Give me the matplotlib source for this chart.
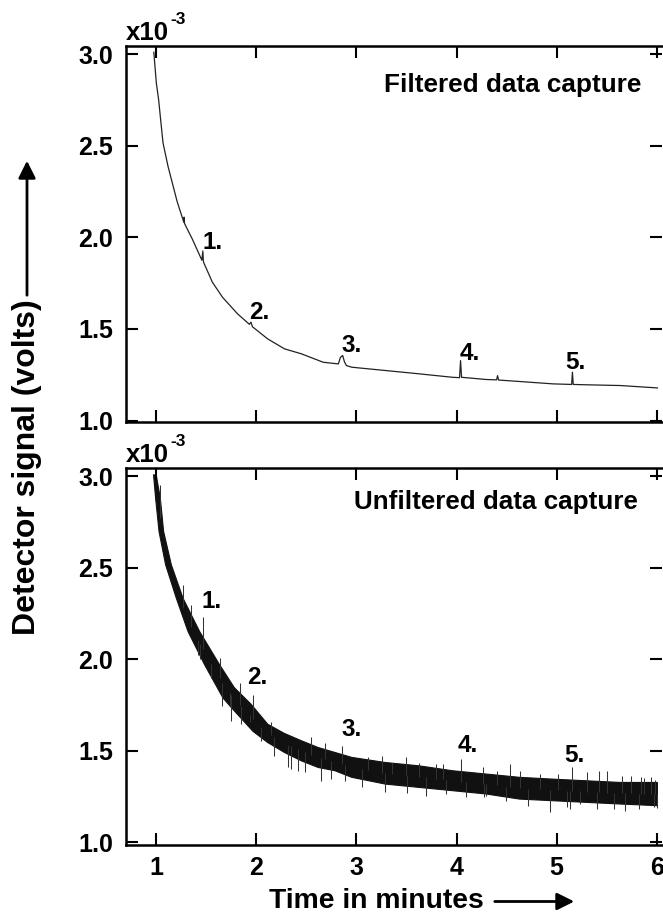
import numpy as np
import matplotlib.pyplot as plt

plt.rcParams['font.family'] = ['Liberation Sans', 'DejaVu Sans']
plt.rcParams['font.weight'] = 'bold'

# ---- data (signal in units of 1e-3 V, time in min) ----
# filtered capture, top panel
filt_t = [0.975, 1.0, 1.023, 1.05, 1.067, 1.117, 1.208, 1.275, 1.278, 1.282,
          1.359, 1.455, 1.465, 1.47, 1.475, 1.56, 1.661, 1.812, 1.93, 1.946,
          1.96, 2.114, 2.282, 2.45, 2.668, 2.819, 2.84, 2.862, 2.88, 2.9,
          2.953, 3.289, 3.624, 3.96, 4.03, 4.04, 4.05, 4.295, 4.40, 4.41,
          4.42, 4.631, 4.966, 5.15, 5.158, 5.166, 5.302, 5.638, 6.007]
filt_v = [3.01, 2.843, 2.751, 2.605, 2.515, 2.387, 2.195, 2.082, 2.11, 2.075,
          1.991, 1.875, 1.925, 1.87, 1.86, 1.755, 1.673, 1.582, 1.525, 1.537,
          1.512, 1.445, 1.391, 1.364, 1.318, 1.309, 1.345, 1.355, 1.32, 1.30,
          1.291, 1.273, 1.255, 1.236, 1.234, 1.327, 1.236, 1.224, 1.222, 1.245,
          1.221, 1.213, 1.2, 1.197, 1.264, 1.197, 1.195, 1.191, 1.178]

# unfiltered capture, bottom panel: upper and lower edge of the noise band
up_t = [0.972, 1.0, 1.04, 1.073, 1.15, 1.267, 1.433, 1.633, 1.78, 1.946,
        2.114, 2.28, 2.45, 2.617, 2.785, 2.953, 3.289, 3.624, 3.96, 4.295,
        4.63, 4.966, 5.30, 5.638, 6.007]
up_v = [3.01, 3.005, 2.881, 2.699, 2.517, 2.334, 2.152, 1.97, 1.845, 1.755,
        1.645, 1.595, 1.555, 1.518, 1.491, 1.464, 1.436, 1.418, 1.391, 1.373,
        1.355, 1.345, 1.336, 1.327, 1.327]
lo_t = [0.972, 0.993, 1.027, 1.093, 1.2, 1.317, 1.483, 1.667, 1.78, 1.967,
        2.114, 2.28, 2.45, 2.617, 2.785, 2.953, 3.289, 3.624, 3.96, 4.295,
        4.63, 4.966, 5.30, 5.638, 6.007]
lo_v = [3.01, 2.881, 2.699, 2.517, 2.334, 2.152, 1.97, 1.788, 1.718, 1.606,
        1.545, 1.491, 1.445, 1.409, 1.391, 1.355, 1.318, 1.30, 1.282, 1.264,
        1.236, 1.227, 1.218, 1.209, 1.2]

# single noise spikes sticking out of the band (time, tip value)
spike_t = [1.04, 1.267, 1.35, 1.467, 1.417, 1.633, 1.55, 1.833, 1.733, 1.967,
           1.933, 1.44, 1.66, 1.745, 1.846, 2.047, 2.315, 2.35, 2.416, 2.65,
           2.75, 2.852, 3.054, 3.12, 3.356, 3.624, 3.69, 3.79, 3.89, 4.044,
           4.094, 4.295, 4.40, 4.53, 4.715, 4.83, 4.933, 5.134, 5.158, 5.235,
           5.30, 5.42, 5.57, 5.688, 5.74, 5.872, 5.94, 5.97,
           2.148, 2.55, 2.685, 3.255, 3.49, 3.86, 4.26, 4.63, 5.017, 5.503,
           5.654, 5.84, 5.985, 2.18, 2.483, 2.886, 3.289, 3.50, 4.27, 4.497,
           5.10, 5.40, 5.82, 6.0]
spike_v = [2.954, 2.407, 2.298, 2.234, 2.024, 2.006, 1.897, 1.87, 1.751, 1.806,
           1.66, 2.0, 1.745, 1.664, 1.645, 1.555, 1.409, 1.40, 1.39, 1.336,
           1.345, 1.527, 1.30, 1.464, 1.436, 1.436, 1.255, 1.427, 1.264, 1.455,
           1.245, 1.255, 1.39, 1.427, 1.20, 1.373, 1.164, 1.182, 1.409, 1.209,
           1.382, 1.391, 1.182, 1.173, 1.364, 1.351, 1.355, 1.191,
           1.66, 1.575, 1.545, 1.473, 1.464, 1.427, 1.409, 1.39, 1.373, 1.391,
           1.364, 1.358, 1.34, 1.47, 1.382, 1.336, 1.273, 1.268, 1.245, 1.227,
           1.195, 1.182, 1.182, 1.19]

peak_names = ['1.', '2.', '3.', '4.', '5.']
top_lab_t = [1.56, 2.03, 2.953, 4.128, 5.185]
top_lab_v = [1.97, 1.59, 1.409, 1.364, 1.318]
bot_lab_t = [1.55, 2.01, 2.953, 4.11, 5.175]
bot_lab_v = [2.316, 1.90, 1.618, 1.527, 1.473]

x_ticks = [1, 2, 3, 4, 5, 6]
y_ticks = [1.0, 1.5, 2.0, 2.5, 3.0]

# ---- figure ----
W, H = 663, 915
fig = plt.figure(figsize=(W / 100, H / 100), dpi=100)

left = 125.7 / W
width = (661.7 - 125.7) / W
ax1 = fig.add_axes([left, 1 - 422 / H, width, 376 / H])
ax2 = fig.add_axes([left, 1 - 845 / H, width, 377.3 / H])

for ax in (ax1, ax2):
    ax.set_xlim(0.694, 6.05)
    ax.set_xticks(x_ticks)
    ax.set_yticks(y_ticks)
    ax.set_yticklabels([f'{v:.1f}' for v in y_ticks])
    ax.spines['right'].set_visible(False)
    for s in ('left', 'top', 'bottom'):
        ax.spines[s].set_linewidth(1.8)
    ax.tick_params(direction='in', length=8.5, width=1.5, top=True, right=True,
                   labelsize=18, pad=9)
    ax.tick_params(axis='x', pad=8)
    ax.annotate('x10', xy=(0, 1), xycoords='axes fraction', xytext=(0, 4.3),
                textcoords='offset points', ha='left', va='baseline',
                fontsize=18.5, fontweight='bold')
    ax.annotate('-3', xy=(0, 1), xycoords='axes fraction', xytext=(32.3, 15.5),
                textcoords='offset points', ha='left', va='baseline',
                fontsize=12.5, fontweight='bold')

ax1.set_ylim(0.992, 3.044)
ax2.set_ylim(0.985, 3.048)
ax1.tick_params(axis='x', labelbottom=False)

# top: filtered trace
ax1.plot(filt_t, filt_v, color='#222222', lw=0.9)
ax1.text(0.9627, 0.896, 'Filtered data capture', transform=ax1.transAxes,
         ha='right', va='center', fontsize=18.8, fontweight='bold')
for name, t, v in zip(peak_names, top_lab_t, top_lab_v):
    ax1.text(t, v, name, ha='center', va='center', fontsize=17.5, fontweight='bold')

# bottom: unfiltered trace as a noise band plus spikes
band_t = np.r_[up_t, lo_t[::-1]]
band_v = np.r_[up_v, lo_v[::-1]]
ax2.fill(band_t, band_v, color='#111111', lw=0.8, ec='#111111')
base_v = (np.interp(spike_t, up_t, up_v) + np.interp(spike_t, lo_t, lo_v)) / 2
ax2.vlines(spike_t, base_v, spike_v, color='#333333', lw=0.75)
ax2.text(0.9563, 0.91, 'Unfiltered data capture', transform=ax2.transAxes,
         ha='right', va='center', fontsize=18.7, fontweight='bold')
for name, t, v in zip(peak_names, bot_lab_t, bot_lab_v):
    ax2.text(t, v, name, ha='center', va='center', fontsize=17.5, fontweight='bold')

# axis titles with arrows
fig.text(27 / W, 1 - 467.5 / H, 'Detector signal (volts)', rotation=90,
         ha='center', va='center', fontsize=23, fontweight='bold')
fig.add_artist(plt.Annotation('', xy=(27, H - 158), xycoords='figure pixels',
                              xytext=(27, H - 298), textcoords='figure pixels',
                              arrowprops=dict(arrowstyle='-|>', lw=2, color='k',
                                              mutation_scale=26)))
fig.text(376.3 / W, 1 - 901 / H, 'Time in minutes', ha='center', va='center',
         fontsize=20.3, fontweight='bold')
fig.add_artist(plt.Annotation('', xy=(577, H - 901.5), xycoords='figure pixels',
                              xytext=(492, H - 901.5), textcoords='figure pixels',
                              arrowprops=dict(arrowstyle='-|>', lw=2, color='k',
                                              mutation_scale=26)))

fig.savefig('out.png', dpi=100)
